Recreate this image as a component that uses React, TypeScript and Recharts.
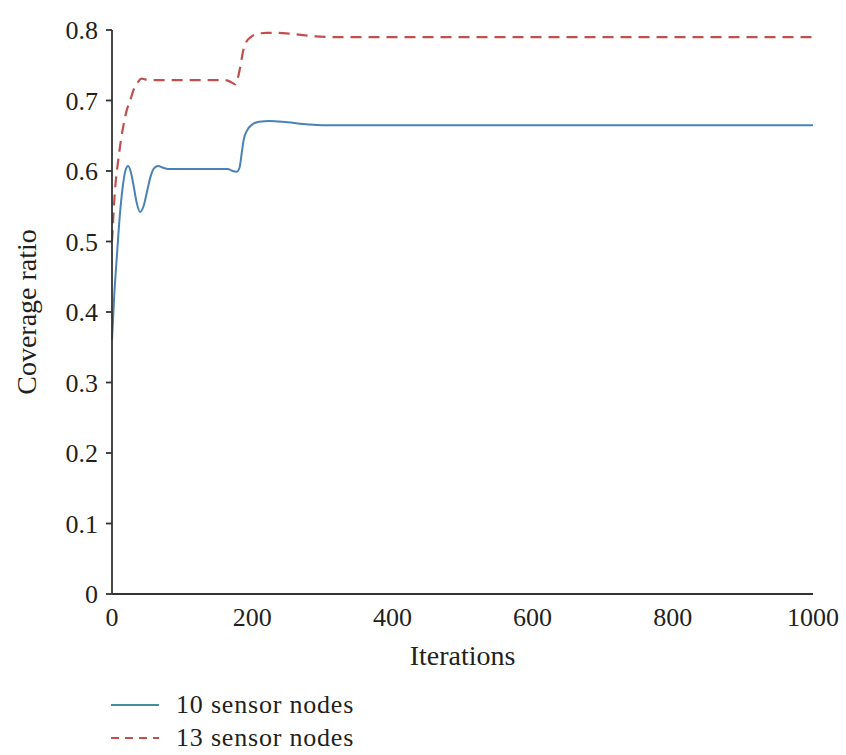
import React from 'react';
import { LineChart, Line, XAxis, YAxis, Legend } from 'recharts';

// iterations / coverage ratio
const iters10 = [0, 3, 7, 11, 15, 19, 23, 27, 31, 35, 40, 45, 50, 55, 60, 66, 72, 80, 100, 140, 165, 172, 178, 182, 185, 188, 193, 200, 210, 225, 250, 280, 300, 400, 600, 800, 1000];
const cov10 = [0.36, 0.42, 0.48, 0.535, 0.575, 0.6, 0.607, 0.598, 0.578, 0.556, 0.542, 0.55, 0.571, 0.592, 0.604, 0.607, 0.605, 0.603, 0.603, 0.603, 0.603, 0.6, 0.599, 0.605, 0.625, 0.645, 0.658, 0.666, 0.67, 0.671, 0.669, 0.666, 0.665, 0.665, 0.665, 0.665, 0.665];

const iters13 = [0, 4, 9, 16, 21, 26, 30, 37, 42, 47, 60, 100, 160, 170, 176, 179, 183, 187, 191, 198, 206, 220, 235, 260, 290, 320, 400, 600, 800, 1000];
const cov13 = [0.5, 0.569, 0.616, 0.663, 0.686, 0.7, 0.713, 0.726, 0.731, 0.73, 0.729, 0.729, 0.729, 0.726, 0.723, 0.73, 0.748, 0.77, 0.782, 0.79, 0.794, 0.796, 0.796, 0.794, 0.791, 0.79, 0.79, 0.79, 0.79, 0.79];

const xTicks = [0, 200, 400, 600, 800, 1000];
const yTicks = [0, 0.1, 0.2, 0.3, 0.4, 0.5, 0.6, 0.7, 0.8];

const series10 = iters10.map((x, i) => ({ x, y: cov10[i] }));
const series13 = iters13.map((x, i) => ({ x, y: cov13[i] }));

const FONT = '"Liberation Serif", "Times New Roman", serif';
const TEXT = '#231f20';

const legendStyles: Record<string, { dash?: string; color: string }> = {
    '10 sensor nodes': { color: '#3f8f9c' },
    '13 sensor nodes': { color: '#c0504d', dash: '8 6' },
};

const LegendBox = (props: any) => {
    const items = props.payload || [];
    return (
        <div style={{ fontFamily: FONT, fontSize: 26, color: TEXT }}>
            {items.map((it: any) => {
                const st = legendStyles[it.value] || { color: it.color };
                return (
                    <div key={it.value} style={{ display: 'flex', alignItems: 'center', height: 33 }}>
                        <svg width={50} height={10} style={{ marginRight: 16 }}>
                            <line x1={1} y1={5} x2={49} y2={5} stroke={st.color} strokeWidth={2} strokeDasharray={st.dash} />
                        </svg>
                        <span style={{ letterSpacing: 0.8, lineHeight: 1 }}>{it.value}</span>
                    </div>
                );
            })}
        </div>
    );
};

const App = () => {
    return (
        <div style={{ position: 'absolute', left: 0, top: 0, width: 846, height: 755, background: '#fff' }}>
            <LineChart
                width={846}
                height={755}
                margin={{ top: 30, right: 33, bottom: 81, left: 0 }}
                style={{ fontFamily: FONT }}
            >
                <XAxis
                    type="number"
                    dataKey="x"
                    domain={[0, 1000]}
                    ticks={xTicks}
                    allowDuplicatedCategory={false}
                    height={80}
                    tickLine={false}
                    tickSize={6}
                    tickMargin={8}
                    axisLine={{ stroke: '#333', strokeWidth: 1.8 }}
                    tick={{ fill: TEXT, fontSize: 26 }}
                    label={{ value: 'Iterations', position: 'insideBottom', offset: 9, fill: TEXT, fontSize: 28 }}
                />
                <YAxis
                    type="number"
                    domain={[0, 0.8]}
                    ticks={yTicks}
                    width={112}
                    tickSize={6}
                    tickMargin={8}
                    tickFormatter={(v: number) => (v === 0 ? '0' : v.toFixed(1))}
                    tickLine={{ stroke: '#333', strokeWidth: 1.8 }}
                    axisLine={{ stroke: '#333', strokeWidth: 1.8 }}
                    tick={{ fill: TEXT, fontSize: 26 }}
                    label={{
                        value: 'Coverage ratio',
                        angle: -90,
                        position: 'insideLeft',
                        offset: 26,
                        fill: TEXT,
                        fontSize: 28,
                        style: { textAnchor: 'middle' },
                    }}
                />
                <Line
                    data={series10}
                    dataKey="y"
                    name="10 sensor nodes"
                    type="monotone"
                    stroke="#4a82b6"
                    strokeWidth={2}
                    dot={false}
                    activeDot={false}
                    isAnimationActive={false}
                />
                <Line
                    data={series13}
                    dataKey="y"
                    name="13 sensor nodes"
                    type="monotone"
                    stroke="#c0504d"
                    strokeWidth={2.2}
                    strokeDasharray="11 7"
                    dot={false}
                    activeDot={false}
                    isAnimationActive={false}
                />
                <Legend
                    layout="horizontal"
                    verticalAlign="middle"
                    align="center"
                    content={<LegendBox />}
                    wrapperStyle={{ left: 110, top: 688, width: 320 }}
                />
            </LineChart>
        </div>
    );
};

export default App;
